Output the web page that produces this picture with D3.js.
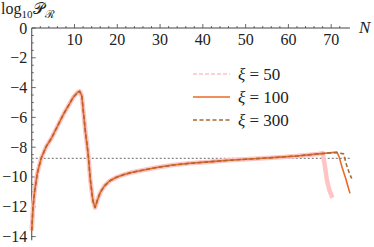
<!DOCTYPE html>
<html>
<head>
<meta charset="utf-8">
<script src="https://cdn.jsdelivr.net/npm/d3@7"></script>
<style>
    body { margin: 0; background: #fff; }
</style>
</head>
<body>
<div id="chart"></div>
<script>
// values
var baseN = [0, 0.3, 0.7, 1.3, 2.2, 3.4, 4.6, 7.4, 9.7, 10.8, 11.2, 11.7, 12.5, 13.2, 13.7, 14.3, 14.8,
    15.3, 16, 17, 18.3, 19.8, 21.4, 23.3, 25.3, 29.2, 33, 37, 42, 46, 50, 54, 58, 62, 67];
var baseV = [-13.6, -12.0, -10.9, -9.75, -8.74, -7.95, -7.4, -5.8, -4.65, -4.3, -4.25, -4.55, -6.85, -8.5, -10.2, -11.6, -12.05,
    -11.6, -11.05, -10.6, -10.25, -10.02, -9.85, -9.7, -9.58, -9.36, -9.2, -9.08, -8.97, -8.88, -8.81, -8.74, -8.67, -8.59, -8.45];

var tail50N = [68, 68.5, 69, 69.6, 70.3];
var tail50V = [-8.4, -9.2, -10.2, -10.9, -11.4];
var tail100N = [69, 71.3, 71.8, 72.6, 73.4, 74.0, 74.4];
var tail100V = [-8.4, -8.33, -8.6, -9.4, -10.1, -10.7, -11.1];
var tail300N = [69, 71.3, 72.9, 73.6, 74.2, 74.8];
var tail300V = [-8.4, -8.36, -8.45, -9.2, -9.7, -10.1];

var levelV = -8.75;
var xTicks = [10, 20, 30, 40, 50, 60, 70];
var yTicks = [0, -2, -4, -6, -8, -10, -12, -14];
var seriesNames = ["\u03be = 50", "\u03be = 100", "\u03be = 300"];

var width = 374, height = 247;
var serif = "'Liberation Serif'";
var x = d3.scaleLinear().domain([0, 74.4]).range([31.75, 350]);
var y = d3.scaleLinear().domain([0, -14.25]).range([28, 240.3]);

var svg = d3.select("#chart").append("svg")
    .attr("width", width)
    .attr("height", height);

function join(n, v, tn, tv) {
    var pts = n.map(function(d, i) { return [d, v[i]]; });
    return pts.concat(tn.map(function(d, i) { return [d, tv[i]]; }));
}

var series = [
    { name: seriesNames[0], pts: join(baseN, baseV, tail50N, tail50V), color: "#ffc4c4", w: 4.5, dash: null },
    { name: seriesNames[1], pts: join(baseN, baseV, tail100N, tail100V), color: "#ec6a24", w: 1.6, dash: null },
    { name: seriesNames[2], pts: join(baseN, baseV, tail300N, tail300V), color: "#a86a34", w: 1.6, dash: "4,2.5" }
];

var line = d3.line()
    .x(function(d) { return x(d[0]); })
    .y(function(d) { return y(d[1]); });

// axes
var xAxis = svg.append("g").attr("transform", "translate(0," + y(0) + ")");
xAxis.append("line").attr("x1", x(0)).attr("x2", x(74.4)).attr("stroke", "#444");
xAxis.selectAll(".minor").data(d3.range(2, 74, 2)).enter().append("line")
    .attr("x1", function(d) { return x(d); }).attr("x2", function(d) { return x(d); })
    .attr("y1", 0).attr("y2", function(d) { return d % 10 === 0 ? -4 : -2; })
    .attr("stroke", "#444").attr("stroke-width", 0.8);
xAxis.selectAll("text").data(xTicks).enter().append("text")
    .attr("x", function(d) { return x(d); })
    .attr("y", 17)
    .attr("text-anchor", "middle")
    .style("font-family", serif)
    .style("font-size", "16px")
    .attr("fill", "#222")
    .text(function(d) { return d; });

var yAxis = svg.append("g").attr("transform", "translate(" + x(0) + ",0)");
yAxis.append("line").attr("y1", y(0)).attr("y2", y(-14.25)).attr("stroke", "#444");
yAxis.selectAll(".minor").data(d3.range(0, -14.01, -0.5)).enter().append("line")
    .attr("y1", function(d) { return y(d); }).attr("y2", function(d) { return y(d); })
    .attr("x1", 0).attr("x2", function(d) { return d % 2 === 0 ? 4 : 2; })
    .attr("stroke", "#444").attr("stroke-width", 0.8);
yAxis.selectAll("text").data(yTicks).enter().append("text")
    .attr("x", -4.5)
    .attr("y", function(d) { return y(d) + 5.5; })
    .attr("text-anchor", "end")
    .style("font-family", serif)
    .style("font-size", "16px")
    .attr("fill", "#222")
    .text(function(d) { return d < 0 ? "\u2212" + (-d) : d; });

// axis labels
var title = svg.append("text").attr("x", 1).attr("y", 14)
    .style("font-family", serif).style("font-size", "16px").attr("fill", "#222");
title.append("tspan").text("log");
title.append("tspan").style("font-size", "11px").attr("dy", 4).text("10");
title.append("tspan").attr("dy", -4).attr("dx", 1).text("\ud835\udcab");
title.append("tspan").attr("dy", 4).style("font-size", "11px").text("\u211b");

svg.append("text").attr("x", 359).attr("y", 33).attr("fill", "#222")
    .style("font-family", serif).style("font-size", "17px").style("font-style", "italic").text("N");

// level line
svg.append("line")
    .attr("x1", x(0)).attr("x2", x(74.4))
    .attr("y1", y(levelV)).attr("y2", y(levelV))
    .attr("stroke", "#888").attr("stroke-width", 1.3).attr("stroke-dasharray", "2,2");

// curves
svg.selectAll(".curve").data(series).enter().append("path")
    .attr("class", "curve")
    .attr("d", function(d) { return line(d.pts); })
    .attr("fill", "none")
    .attr("stroke", function(d) { return d.color; })
    .attr("stroke-width", function(d) { return d.w; })
    .attr("stroke-dasharray", function(d) { return d.dash; })
    .attr("stroke-linejoin", "round");

// legend
var legend = svg.selectAll(".leg").data(series).enter().append("g")
    .attr("transform", function(d, i) { return "translate(193," + (74 + i * 23) + ")"; });
legend.append("line")
    .attr("x1", 0).attr("x2", 37)
    .attr("stroke", function(d) { return d.color; })
    .attr("stroke-width", function(d, i) { return i === 0 ? 1.6 : d.w; })
    .attr("stroke-dasharray", function(d, i) { return i === 0 ? "4,2" : d.dash; });
legend.append("text")
    .attr("x", 45).attr("y", 5.5)
    .style("font-family", serif)
    .style("font-size", "17px")
    .attr("fill", "#222")
    .each(function(d) {
        var t = d3.select(this);
        t.append("tspan").style("font-style", "italic").text("\u03be");
        t.append("tspan").text(d.name.slice(1));
    });
</script>
</body>
</html>
